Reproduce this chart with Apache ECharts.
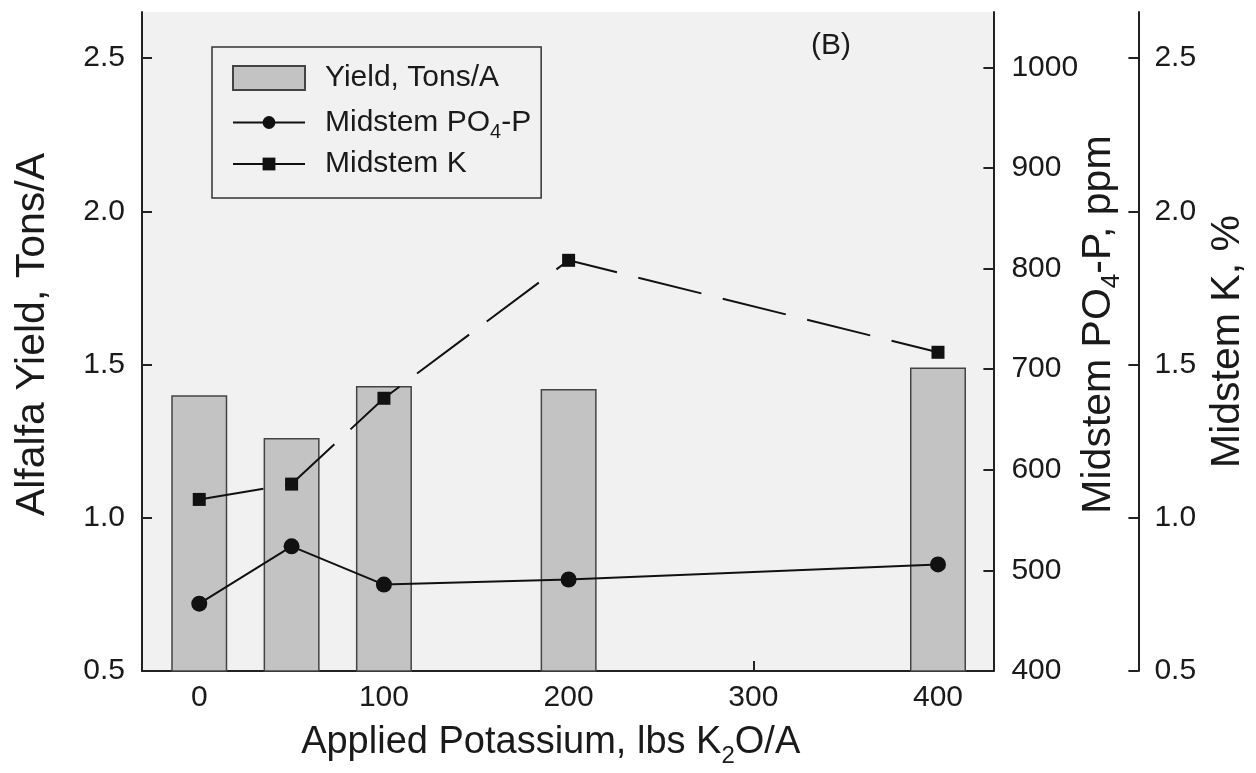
<!DOCTYPE html>
<html>
<head>
<meta charset="utf-8">
<script src="https://cdn.jsdelivr.net/npm/echarts@6/dist/echarts.min.js"></script>
<style>
  html, body { margin: 0; padding: 0; background: #fff; }
  #chart { width: 1256px; height: 773px; }
</style>
</head>
<body>
<div id="chart"></div>
<script>
// applied K2O, lbs/A
const potassium = [0, 50, 100, 200, 400]
// yield bars (left axis)
const yieldTons = [1.40, 1.26, 1.43, 1.42, 1.49]
// midstem PO4-P, ppm (first right axis)
const po4Ppm = [467, 524, 486, 491, 506]
// midstem K, % (second right axis)
const kPercent = [1.06, 1.11, 1.39, 1.84, 1.54]

const xTicks = [0, 100, 200, 300, 400]
const yieldTicks = [0.5, 1.0, 1.5, 2.0, 2.5]
const po4Ticks = [400, 500, 600, 700, 800, 900, 1000]
const kTicks = [0.5, 1.0, 1.5, 2.0, 2.5]

const FONT = 'Liberation Sans, Arial, sans-serif'
const INK = '#1a1a1a'

const pairs = vals => potassium.map((x, i) => [x, vals[i]])

const axisLine = { show: true, onZero: false, lineStyle: { color: '#222', width: 2 } }
const tick = vals => ({ show: true, inside: true, length: 10, customValues: vals, lineStyle: { color: '#222', width: 2 } })
const label = (vals, fmt, margin) => ({
  customValues: vals,
  formatter: fmt,
  margin: margin,
  fontSize: 30,
  fontFamily: FONT,
  color: INK
})
const oneDec = v => Number(v).toFixed(1)

const chart = echarts.init(document.getElementById('chart'))

chart.setOption({
  animation: false,
  backgroundColor: '#fff',
  title: {
    text: '(B)',
    left: 806,
    top: 26,
    textStyle: { fontSize: 30, fontWeight: 'normal', fontFamily: FONT, color: INK }
  },
  grid: {
    left: 142,
    right: 259,
    top: 12,
    bottom: 96,
    show: true,
    backgroundColor: '#f1f1f1',
    borderWidth: 0
  },
  legend: [
    {
      // bar swatch
      left: 232,
      top: 62,
      padding: 0,
      itemWidth: 72,
      itemHeight: 24,
      selectedMode: false,
      data: [{ name: 'Yield, Tons/A', icon: 'rect' }],
      textStyle: { fontSize: 30, lineHeight: 32, fontFamily: FONT, color: INK, padding: [0, 0, 0, 15] }
    },
    {
      // line items, this one carries the frame
      orient: 'vertical',
      left: 212,
      top: 47,
      padding: [56, 10, 18, 20],
      itemWidth: 72,
      itemHeight: 16,
      itemGap: 6,
      borderColor: '#333',
      borderWidth: 1.5,
      selectedMode: false,
      data: [
        { name: 'Midstem PO4-P' },
        { name: 'Midstem K', lineStyle: { type: 'solid' } }
      ],
      formatter: name => name.replace('PO4', 'PO{sub|4}'),
      textStyle: {
        fontSize: 30,
        lineHeight: 32,
        fontFamily: FONT,
        color: INK,
        padding: [0, 0, 0, 15],
        rich: {
          sub: { fontSize: 20, lineHeight: 20, fontFamily: FONT, color: INK, padding: [19, 0, 0, 0] }
        }
      }
    }
  ],
  xAxis: {
    type: 'value',
    min: -31,
    max: 430,
    name: 'Applied Potassium, lbs K{sub|2}O/A',
    nameLocation: 'middle',
    nameGap: 48,
    nameTextStyle: {
      fontSize: 38,
      lineHeight: 38,
      fontFamily: FONT,
      color: INK,
      padding: [0, 34, 0, 0],
      rich: {
        sub: { fontSize: 24, lineHeight: 24, fontFamily: FONT, color: INK, padding: [26, 0, 0, 0] }
      }
    },
    axisLine: axisLine,
    axisTick: tick(xTicks),
    axisLabel: label(xTicks, v => v, 12),
    splitLine: { show: false }
  },
  yAxis: [
    {
      type: 'value',
      position: 'left',
      min: 0.5,
      max: 2.65,
      name: 'Alfalfa Yield, Tons/A',
      nameLocation: 'middle',
      nameGap: 89,
      nameTextStyle: { fontSize: 41, lineHeight: 41, fontFamily: FONT, color: INK, padding: [0, 0, 0, 14] },
      axisLine: axisLine,
      axisTick: tick(yieldTicks),
      axisLabel: label(yieldTicks, oneDec, 17),
      splitLine: { show: false }
    },
    {
      type: 'value',
      position: 'right',
      min: 400,
      max: 1055,
      name: 'Midstem PO{sub|4}-P, ppm',
      nameLocation: 'middle',
      nameGap: 85,
      nameMoveOverlap: false,
      nameTextStyle: {
        fontSize: 41,
        lineHeight: 41,
        fontFamily: FONT,
        color: INK,
        padding: [0, 0, 0, 34],
        rich: {
          sub: { fontSize: 26, lineHeight: 26, fontFamily: FONT, color: INK, padding: [26, 0, 0, 0] }
        }
      },
      axisLine: axisLine,
      axisTick: tick(po4Ticks),
      axisLabel: label(po4Ticks, v => v, 18),
      splitLine: { show: false }
    },
    {
      type: 'value',
      position: 'right',
      offset: 145,
      min: 0.5,
      max: 2.65,
      name: 'Midstem K, %',
      nameLocation: 'middle',
      nameGap: 66,
      nameTextStyle: { fontSize: 41, lineHeight: 41, fontFamily: FONT, color: INK },
      axisLine: axisLine,
      axisTick: tick(kTicks),
      axisLabel: label(kTicks, oneDec, 16),
      splitLine: { show: false }
    }
  ],
  series: [
    {
      name: 'Yield, Tons/A',
      type: 'bar',
      yAxisIndex: 0,
      barWidth: 56,
      data: pairs(yieldTons),
      itemStyle: { color: '#c3c3c3', borderColor: '#444', borderWidth: 1.5 }
    },
    {
      name: 'Midstem PO4-P',
      type: 'line',
      yAxisIndex: 1,
      data: pairs(po4Ppm),
      symbol: 'circle',
      symbolSize: 16,
      itemStyle: { color: '#111' },
      lineStyle: { color: '#111', width: 2 }
    },
    {
      name: 'Midstem K',
      type: 'line',
      yAxisIndex: 2,
      data: pairs(kPercent),
      symbol: 'rect',
      symbolSize: 13,
      itemStyle: { color: '#111' },
      lineStyle: { color: '#111', width: 2, type: [65, 22] }
    }
  ]
})
</script>
</body>
</html>
